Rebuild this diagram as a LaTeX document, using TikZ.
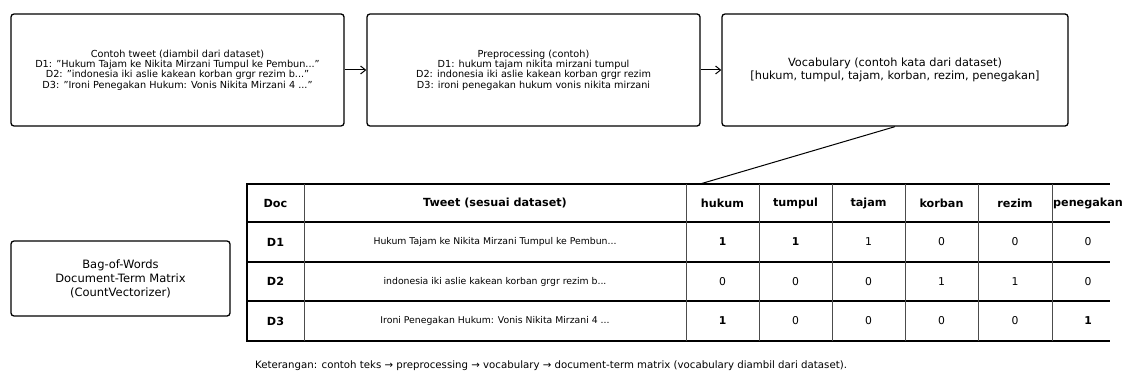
\documentclass[tikz,border=0pt]{standalone}
\usepackage{fontspec}
\setmainfont{DejaVu Sans}
\usetikzlibrary{arrows.meta}
\begin{document}
\begin{tikzpicture}[x=1pt,y=-1pt,
  box/.style={draw, line width=1.3pt, rounded corners=3pt, align=center, inner sep=0pt},
  small/.style={font=\fontsize{9.7}{10.3}\selectfont},
  arr/.style={-{Straight Barb[length=5pt,width=8pt]}, line width=1pt},
  hline/.style={line width=1.6pt},
  vline/.style={line width=1pt, draw=black!70},
  hdr/.style={font=\fontsize{11.2}{13}\selectfont\bfseries},
  cell/.style={font=\fontsize{9.3}{11}\selectfont},
  num/.style={font=\fontsize{10.8}{12}\selectfont},
  bnum/.style={font=\fontsize{10.8}{12}\selectfont\bfseries}]
\useasboundingbox (0,0) rectangle (1124,377);
% top boxes
\node[box, small, minimum width=333pt, minimum height=112pt] (tweet) at (177.5,70)
  {Contoh tweet (diambil dari dataset)\\
   D1: "Hukum Tajam ke Nikita Mirzani Tumpul ke Pembun..."\\
   D2: "indonesia iki aslie kakean korban grgr rezim b..."\\
   D3: "Ironi Penegakan Hukum: Vonis Nikita Mirzani 4 ..."};
\node[box, small, minimum width=333pt, minimum height=112pt] (prep) at (533.5,70)
  {Preprocessing (contoh)\\
   D1: hukum tajam nikita mirzani tumpul\\
   D2: indonesia iki aslie kakean korban grgr rezim\\
   D3: ironi penegakan hukum vonis nikita mirzani};
\node[box, font=\fontsize{11.3}{13.5}\selectfont, minimum width=346pt, minimum height=112pt] (vocab) at (895,70)
  {Vocabulary (contoh kata dari dataset)\\
   {[hukum, tumpul, tajam, korban, rezim, penegakan]}};
\node[box, font=\fontsize{11.5}{14}\selectfont, minimum width=219pt, minimum height=75pt] (bow) at (120.5,278.5)
  {Bag-of-Words\\Document-Term Matrix\\(CountVectorizer)};
\draw[arr] (tweet.east) -- (prep.west);
\draw[arr] (prep.east) -- (vocab.west);
\coordinate (tabtop) at (700,184);
\draw[line width=1pt] (vocab.south) -- (tabtop);
% table lines
\foreach \y in {184,222,262,301,341} \draw[hline] (247,\y) -- (1110,\y);
\foreach \x in {304,686,759,832,905,978,1052} \draw[vline] (\x,184) -- (\x,341);
\draw[line width=1.8pt] (247,183.2) -- (247,341.8);
% header
\node[hdr] (hdoc) at (275.5,203) {Doc};
\node[hdr] (htweet) at (495,203) {Tweet (sesuai dataset)};
\node[hdr] (hhukum) at (722.5,203) {hukum};
\node[hdr] (htumpul) at (795.5,203) {tumpul};
\node[hdr] (htajam) at (868.5,203) {tajam};
\node[hdr] (hkorban) at (941.5,203) {korban};
\node[hdr] (hrezim) at (1015,203) {rezim};
\node[hdr] (hpeneg) at (1088,203) {penegakan};
% rows
\node[hdr] (d1) at (275.5,242) {D1};
\node[hdr] (d2) at (275.5,281.5) {D2};
\node[hdr] (d3) at (275.5,321) {D3};
\node[cell] (t1) at (495,242) {Hukum Tajam ke Nikita Mirzani Tumpul ke Pembun...};
\node[cell] (t2) at (495,281.5) {indonesia iki aslie kakean korban grgr rezim b...};
\node[cell] (t3) at (495,321) {Ironi Penegakan Hukum: Vonis Nikita Mirzani 4 ...};
% values
\node[bnum] (v11) at (722.5,242) {1};
\node[bnum] (v12) at (795.5,242) {1};
\node[num] (v13) at (868.5,242) {1};
\node[num] (v14) at (941.5,242) {0};
\node[num] (v15) at (1015,242) {0};
\node[num] (v16) at (1088,242) {0};
\node[num] (v21) at (722.5,281.5) {0};
\node[num] (v22) at (795.5,281.5) {0};
\node[num] (v23) at (868.5,281.5) {0};
\node[num] (v24) at (941.5,281.5) {1};
\node[num] (v25) at (1015,281.5) {1};
\node[num] (v26) at (1088,281.5) {0};
\node[bnum] (v31) at (722.5,321) {1};
\node[num] (v32) at (795.5,321) {0};
\node[num] (v33) at (868.5,321) {0};
\node[num] (v34) at (941.5,321) {0};
\node[num] (v35) at (1015,321) {0};
\node[bnum] (v36) at (1088,321) {1};
% caption
\node[font=\fontsize{10.2}{12}\selectfont] (cap) at (551,366)
  {Keterangan: contoh teks → preprocessing → vocabulary → document-term matrix (vocabulary diambil dari dataset).};
\end{tikzpicture}
\end{document}
